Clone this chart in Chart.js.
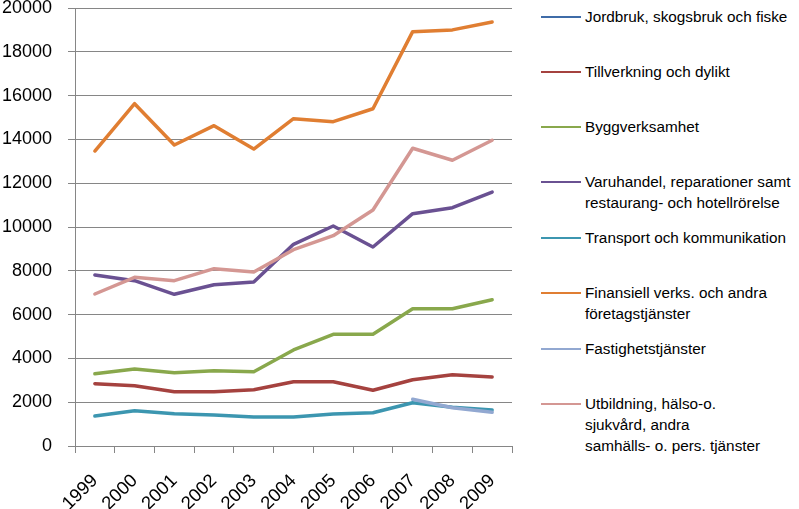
<!DOCTYPE html>
<html><head><meta charset="utf-8">
<script src="https://cdn.jsdelivr.net/npm/chart.js@4"></script>
<style>
body{margin:0;background:#fff;width:799px;height:509px;overflow:hidden;position:relative;font-family:"Liberation Sans",Arial,sans-serif;}
#c{position:absolute;left:0;top:0;}
.item{position:absolute;left:541px;}
.swatch{position:absolute;left:0;top:10px;width:40px;height:2px}
.txt{position:absolute;left:44px;top:0;white-space:nowrap;font-size:15.3px;line-height:21px;color:#000}
</style>
</head><body>
<canvas id="c" width="522" height="509"></canvas>
<div id="legend"></div>
<script>
const years = ['1999','2000','2001','2002','2003','2004','2005','2006','2007','2008','2009'];
const seriesNames = [
  'Jordbruk, skogsbruk och fiske',
  'Tillverkning och dylikt',
  'Byggverksamhet',
  'Varuhandel, reparationer samt\nrestaurang- och hotellrörelse',
  'Transport och kommunikation',
  'Finansiell verks. och andra\nföretagstjänster',
  'Fastighetstjänster',
  'Utbildning, hälso-o.\nsjukvård, andra\nsamhälls- o. pers. tjänster'
];
const jordbruk     = [null,null,null,null,null,null,null,null,null,null,null];
const tillverkning = [2845,2753,2480,2480,2571,2936,2936,2543,3027,3256,3150];
const bygg         = [3300,3516,3347,3440,3393,4384,5100,5100,6270,6270,6680];
const varuhandel   = [7808,7548,6927,7366,7489,9210,10046,9087,10607,10881,11598];
const transport    = [1370,1612,1475,1416,1324,1324,1461,1521,1977,1767,1644];
const finansiell   = [13470,15630,13744,14626,13560,14946,14810,15400,18920,19000,19360];
const fastighet    = [null,null,null,null,null,null,null,null,2132,1750,1539];
const utbildning   = [6941,7703,7548,8096,7945,8964,9603,10776,13594,13050,13960];
const yTicks = [0,2000,4000,6000,8000,10000,12000,14000,16000,18000,20000];

const seriesData = [jordbruk,tillverkning,bygg,varuhandel,transport,finansiell,fastighet,utbildning];
const colors = ['#3f6ca8','#a5423f','#89a84c','#6a5192','#3c96b0','#e07e32','#92a8d1','#d49793'];
const legendY = [17,72,127,182,238,293,349,404];
const FONT = '"Liberation Sans", Arial, sans-serif';

const datasets = seriesData.map((d,i)=>({
  label: seriesNames[i].replace(/\n/g,' '),
  data: d,
  borderColor: colors[i],
  backgroundColor: colors[i],
  borderWidth: 3.5,
  pointRadius: 0,
  tension: 0,
  fill: false,
  spanGaps: false,
  borderJoinStyle: 'round',
  borderCapStyle: 'round',
  order: -i
}));

new Chart(document.getElementById('c'), {
  type: 'line',
  data: { labels: years, datasets },
  options: {
    responsive: false,
    animation: false,
    layout: { padding: { top: 0, right: 10, left: 0, bottom: 0 } },
    plugins: { legend: { display: false }, tooltip: { enabled: false } },
    scales: {
      x: {
        offset: true,
        grid: { offset: true, drawOnChartArea: false, color: '#868686', tickLength: 7, lineWidth: 1 },
        border: { color: '#868686', width: 1 },
        ticks: { minRotation: 45, maxRotation: 45, color: '#000', font: { family: FONT, size: 18.5 }, padding: 17 },
        afterFit(s) { s.height = 63; s.paddingLeft = 0; s.paddingRight = 0; }
      },
      y: {
        min: 0, max: 20000,
        afterBuildTicks(s) { s.ticks = yTicks.map(v => ({ value: v })); },
        grid: { color: '#868686', tickLength: 7, lineWidth: 1 },
        border: { color: '#868686', width: 1 },
        ticks: { color: '#000', font: { family: FONT, size: 18 }, padding: 16, callback: v => String(v) },
        afterFit(s) { s.width = 75; s.paddingTop = 8; s.paddingBottom = 0; }
      }
    }
  }
});

const leg = document.getElementById('legend');
seriesNames.forEach((name,i)=>{
  const it = document.createElement('div');
  it.className = 'item';
  it.style.top = (legendY[i]-11) + 'px';
  const sw = document.createElement('div');
  sw.className = 'swatch';
  sw.style.background = colors[i];
  const tx = document.createElement('div');
  tx.className = 'txt';
  name.split('\n').forEach((line,j)=>{
    if (j) tx.appendChild(document.createElement('br'));
    tx.appendChild(document.createTextNode(line));
  });
  it.appendChild(sw); it.appendChild(tx);
  leg.appendChild(it);
});
</script>
</body></html>
